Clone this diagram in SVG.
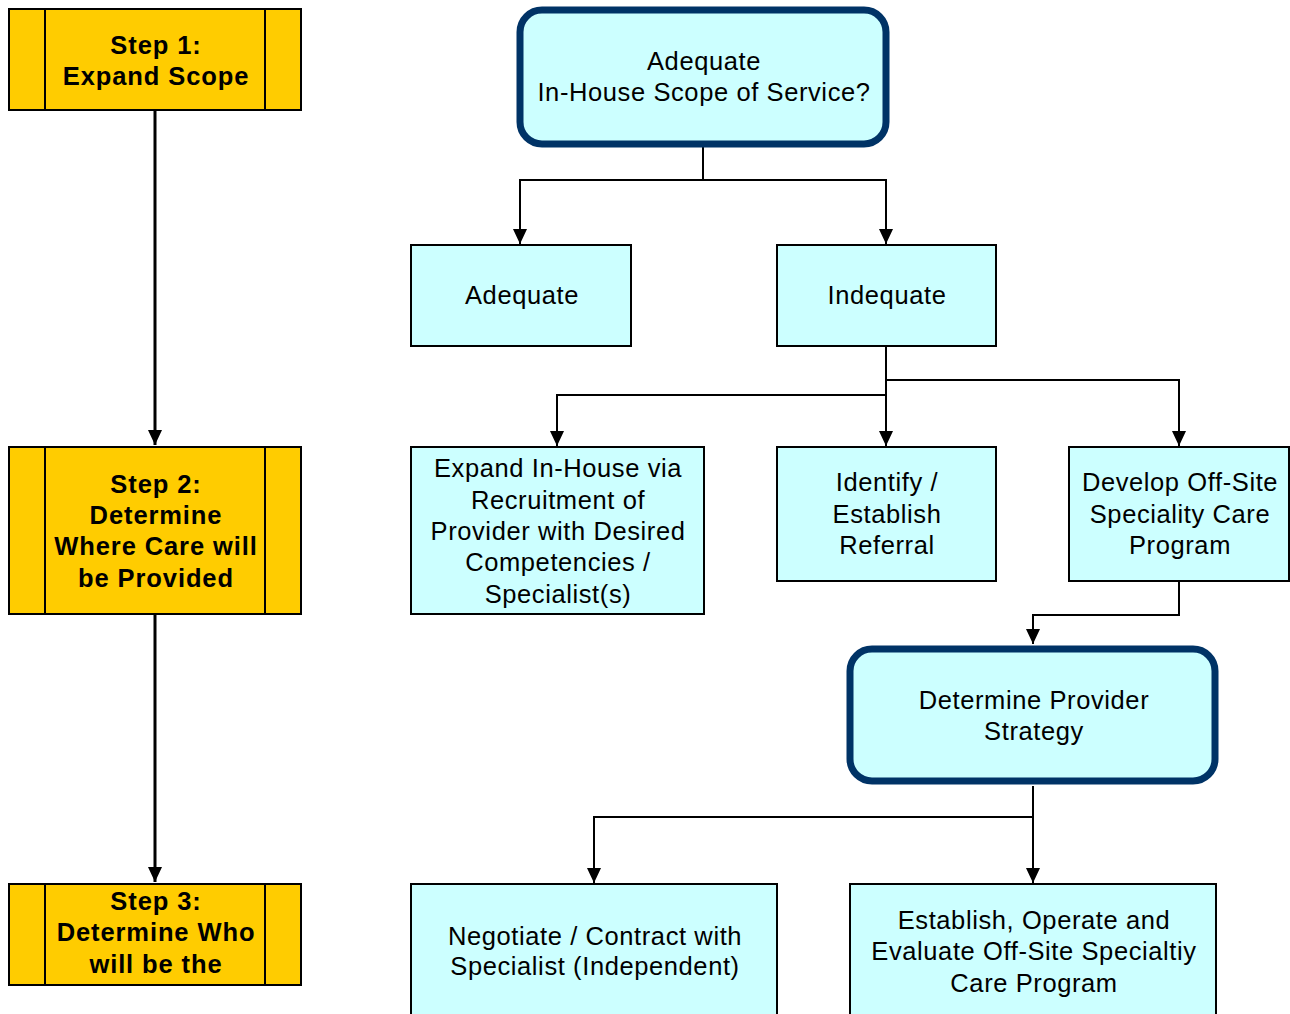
<svg xmlns="http://www.w3.org/2000/svg" width="1290" height="1014" viewBox="0 0 1290 1014">
<style>
.step{fill:#FFCC00;stroke:#000;stroke-width:2}
.box{fill:#CCFFFF;stroke:#000;stroke-width:2}
.rbox{fill:#CCFFFF;stroke:#003366;stroke-width:7}
.st{font-family:"Liberation Sans",Arial,sans-serif;font-size:25.5px;font-weight:bold;fill:#000;text-anchor:middle;letter-spacing:0.9px}
.t{font-family:"Liberation Sans",Arial,sans-serif;font-size:25.5px;fill:#000;text-anchor:middle;letter-spacing:0.6px}
.c{fill:none;stroke:#000;stroke-width:2}
.cl{fill:none;stroke:#000;stroke-width:3}
</style>
<defs>
<marker id="ah" viewBox="0 0 15 14" refX="15" refY="7" markerWidth="15" markerHeight="14" markerUnits="userSpaceOnUse" orient="auto">
<path d="M0,0 L15,7 L0,14 Z" fill="#000"/>
</marker>
</defs>
<rect width="1290" height="1014" fill="#fff"/>
<g id="connectors">
<path class="cl" d="M155,110 V445" marker-end="url(#ah)"/>
<path class="cl" d="M155,614 V882" marker-end="url(#ah)"/>
<path class="c" d="M703,147 V180 H520 V244" marker-end="url(#ah)"/>
<path class="c" d="M703,180 H886 V244" marker-end="url(#ah)"/>
<path class="c" d="M886,346 V446" marker-end="url(#ah)"/>
<path class="c" d="M886,380 H1179 V446" marker-end="url(#ah)"/>
<path class="c" d="M886,395 H557 V446" marker-end="url(#ah)"/>
<path class="c" d="M1179,581 V615 H1033 V644" marker-end="url(#ah)"/>
<path class="c" d="M1033,786 V883" marker-end="url(#ah)"/>
<path class="c" d="M1033,817 H594 V883" marker-end="url(#ah)"/>
</g>
<g id="step1">
<rect class="step" x="9" y="9" width="292" height="101"/>
<path class="c" d="M45,9 V110 M265,9 V110"/>
<text class="st" x="156" y="54">Step 1:</text>
<text class="st" x="156" y="85">Expand Scope</text>
</g>
<g id="step2">
<rect class="step" x="9" y="447" width="292" height="167"/>
<path class="c" d="M45,447 V614 M265,447 V614"/>
<text class="st" x="156" y="493">Step 2:</text>
<text class="st" x="156" y="524">Determine</text>
<text class="st" x="156" y="555">Where Care will</text>
<text class="st" x="156" y="587">be Provided</text>
</g>
<g id="step3">
<rect class="step" x="9" y="884" width="292" height="101"/>
<path class="c" d="M45,884 V985 M265,884 V985"/>
<text class="st" x="156" y="910">Step 3:</text>
<text class="st" x="156" y="941">Determine Who</text>
<text class="st" x="156" y="973">will be the</text>
</g>
<g id="scope">
<rect class="rbox" x="520" y="10" width="366" height="134" rx="22"/>
<text class="t" x="704" y="70">Adequate</text>
<text class="t" x="704" y="101">In-House Scope of Service?</text>
</g>
<g id="adequate">
<rect class="box" x="411" y="245" width="220" height="101"/>
<text class="t" x="522" y="304">Adequate</text>
</g>
<g id="indequate">
<rect class="box" x="777" y="245" width="219" height="101"/>
<text class="t" x="887" y="304">Indequate</text>
</g>
<g id="expand">
<rect class="box" x="411" y="447" width="293" height="167"/>
<text class="t" x="558" y="477">Expand In-House via</text>
<text class="t" x="558" y="509">Recruitment of</text>
<text class="t" x="558" y="540">Provider with Desired</text>
<text class="t" x="558" y="571">Competencies /</text>
<text class="t" x="558" y="603">Specialist(s)</text>
</g>
<g id="identify">
<rect class="box" x="777" y="447" width="219" height="134"/>
<text class="t" x="887" y="491">Identify /</text>
<text class="t" x="887" y="523">Establish</text>
<text class="t" x="887" y="554">Referral</text>
</g>
<g id="develop">
<rect class="box" x="1069" y="447" width="220" height="134"/>
<text class="t" x="1180" y="491">Develop Off-Site</text>
<text class="t" x="1180" y="523">Speciality Care</text>
<text class="t" x="1180" y="554">Program</text>
</g>
<g id="provider">
<rect class="rbox" x="850" y="649" width="365" height="132" rx="22"/>
<text class="t" x="1034" y="709">Determine Provider</text>
<text class="t" x="1034" y="740">Strategy</text>
</g>
<g id="negotiate">
<rect class="box" x="411" y="884" width="366" height="140"/>
<text class="t" x="595" y="945">Negotiate / Contract with</text>
<text class="t" x="595" y="975">Specialist (Independent)</text>
</g>
<g id="establish">
<rect class="box" x="850" y="884" width="366" height="140"/>
<text class="t" x="1034" y="929">Establish, Operate and</text>
<text class="t" x="1034" y="960">Evaluate Off-Site Specialtiy</text>
<text class="t" x="1034" y="992">Care Program</text>
</g>
</svg>
